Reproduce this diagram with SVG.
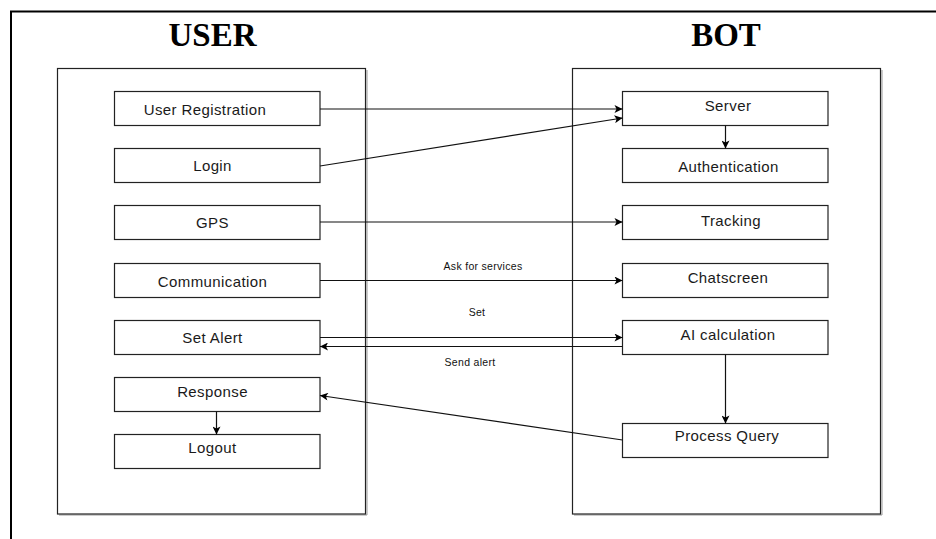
<svg xmlns="http://www.w3.org/2000/svg" width="936" height="539" viewBox="0 0 936 539">
<defs>
<marker id="arr" viewBox="0 0 10 10" refX="10" refY="5" markerWidth="9" markerHeight="8" markerUnits="userSpaceOnUse" orient="auto">
<path d="M0 0 L10 5 L0 10 L2.5 5 Z" fill="#000"/>
</marker>
</defs>
<style>
.frame{fill:none;stroke:#000;stroke-width:2}
.cont{fill:#fff;stroke:#222;stroke-width:1.2}
.shadow{fill:none;stroke:#999;stroke-width:1}
.node rect{fill:#fff;stroke:#222;stroke-width:1.2}
.node text{font-family:"Liberation Sans",Arial,sans-serif;font-size:15px;letter-spacing:0.4px;fill:#1a1a1a;text-anchor:middle}
.title{font-family:"Liberation Serif","Times New Roman",serif;font-weight:bold;font-size:33px;fill:#000;text-anchor:middle}
.conn line{stroke:#111;stroke-width:1.2;fill:none;marker-end:url(#arr)}
.lbl{font-family:"Liberation Sans",Arial,sans-serif;font-size:10.5px;letter-spacing:0.3px;fill:#111;text-anchor:middle}
</style>
<rect width="936" height="539" fill="#fff"/>
<path class="frame" d="M936 11.5 H11 V539"/>
<text class="title" x="212.5" y="46">USER</text>
<text class="title" x="726" y="46">BOT</text>
<g id="user-container">
<path class="shadow" d="M367 70 V515 H59"/>
<rect class="cont" x="57.5" y="68.5" width="308" height="445.5"/>
</g>
<g id="bot-container">
<path class="shadow" d="M882 70 V515 H574"/>
<rect class="cont" x="572.5" y="68.5" width="308" height="445.5"/>
</g>
<g id="user-registration" class="node"><rect x="114.5" y="91.5" width="205.5" height="34"/><text x="205" y="114.5">User Registration</text></g>
<g id="login" class="node"><rect x="114.5" y="148.5" width="205.5" height="34"/><text x="212.5" y="170.5">Login</text></g>
<g id="gps" class="node"><rect x="114.5" y="205.5" width="205.5" height="34"/><text x="212.5" y="227.5">GPS</text></g>
<g id="communication" class="node"><rect x="114.5" y="263.5" width="205.5" height="34"/><text x="212.5" y="286.5">Communication</text></g>
<g id="set-alert" class="node"><rect x="114.5" y="320.5" width="205.5" height="34"/><text x="212.5" y="343">Set Alert</text></g>
<g id="response" class="node"><rect x="114.5" y="377.5" width="205.5" height="34"/><text x="212.5" y="396.5">Response</text></g>
<g id="logout" class="node"><rect x="114.5" y="434.5" width="205.5" height="34"/><text x="212.5" y="452.5">Logout</text></g>
<g id="server" class="node"><rect x="622.5" y="91.5" width="205.5" height="34"/><text x="728" y="110.5">Server</text></g>
<g id="authentication" class="node"><rect x="622.5" y="148.5" width="205.5" height="34"/><text x="728.5" y="172">Authentication</text></g>
<g id="tracking" class="node"><rect x="622.5" y="205.5" width="205.5" height="34"/><text x="731" y="225.5">Tracking</text></g>
<g id="chatscreen" class="node"><rect x="622.5" y="263.5" width="205.5" height="34"/><text x="728" y="282.5">Chatscreen</text></g>
<g id="ai-calculation" class="node"><rect x="622.5" y="320.5" width="205.5" height="34"/><text x="728" y="339.5">AI calculation</text></g>
<g id="process-query" class="node"><rect x="622.5" y="423.5" width="205.5" height="34"/><text x="727" y="441">Process Query</text></g>
<g id="connectors" class="conn">
<line x1="320" y1="109" x2="622.5" y2="109"/>
<line x1="320" y1="166" x2="622.5" y2="118"/>
<line x1="725.5" y1="125.5" x2="725.5" y2="148.5"/>
<line x1="320" y1="222" x2="622.5" y2="222"/>
<line x1="320" y1="280.5" x2="622.5" y2="280.5"/>
<line x1="320" y1="337.5" x2="622.5" y2="337.5"/>
<line x1="622.5" y1="346.5" x2="320" y2="346.5"/>
<line x1="725.5" y1="354.5" x2="725.5" y2="423.5"/>
<line x1="622.5" y1="440" x2="320" y2="395.5"/>
<line x1="216.5" y1="411.5" x2="216.5" y2="434.5"/>
</g>
<text class="lbl" x="483" y="269.5">Ask for services</text>
<text class="lbl" x="477" y="316">Set</text>
<text class="lbl" x="470" y="366">Send alert</text>
</svg>
